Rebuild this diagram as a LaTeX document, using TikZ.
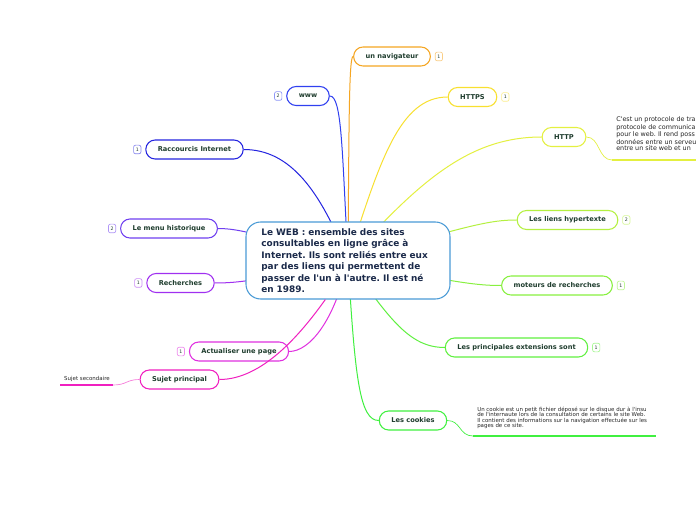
\documentclass[tikz,border=0pt]{standalone}
\usepackage{fontspec}
\setmainfont{DejaVu Sans}
\usetikzlibrary{positioning,backgrounds}

\definecolor{textgreen}{HTML}{1F3D2E}
\definecolor{textnavy}{HTML}{1B2A4A}
\definecolor{rootblue}{HTML}{4A9BD6}
\definecolor{cnav}{HTML}{F5A623}
\definecolor{cwww}{HTML}{3040F0}
\definecolor{chttps}{HTML}{F8E030}
\definecolor{chttp}{HTML}{E4F040}
\definecolor{craccourcis}{HTML}{2424E0}
\definecolor{cmenu}{HTML}{7040F0}
\definecolor{cliens}{HTML}{B4F040}
\definecolor{crech}{HTML}{A030F0}
\definecolor{cmoteurs}{HTML}{88F040}
\definecolor{cactu}{HTML}{E030E0}
\definecolor{cext}{HTML}{60F040}
\definecolor{csujet}{HTML}{F020C0}
\definecolor{ccookies}{HTML}{40F040}

\frenchspacing
\begin{document}
\begin{tikzpicture}[
    x=0.75pt, y=-0.75pt,
    root/.style={rectangle, rounded corners=11pt, draw=rootblue, line width=0.8pt, fill=white, align=left, text width=130pt, minimum width=153pt, minimum height=57.75pt, inner xsep=11.25pt, font=\fontsize{6.7}{8.6}\selectfont\bfseries, text=textnavy},
    topic/.style={rectangle, rounded corners=7pt, draw=#1, line width=0.8pt, fill=white, minimum height=14.25pt, inner xsep=9pt, font=\fontsize{5}{6}\selectfont\bfseries, text=textgreen},
    badge/.style={rectangle, rounded corners=1.5pt, draw=#1!55, line width=0.5pt, fill=white, minimum width=5.5pt, minimum height=6.5pt, inner sep=0pt, font=\fontsize{3.5}{4}\selectfont, text=textgreen},
    note/.style={anchor=north west, inner sep=0pt, align=left, text=black!85},
    link/.style={draw=#1, line width=0.75pt}
  ]
    \useasboundingbox (0,0) rectangle (696,520);

    % centre
    \node[root] (web) at (348,260.5) {Le WEB : ensemble des sites\\consultables en ligne grâce à\\Internet. Ils sont reliés entre eux\\par des liens qui permettent de\\passer de l\textquotesingle un à l\textquotesingle autre. Il est né\\en 1989.};

    % branches
    \node[topic=cnav] (nav) at (392,56.5) {un navigateur};
    \node[badge=cnav, right=3pt of nav] (navb) {1};
    \node[topic=cwww] (www) at (308,96) {www};
    \node[badge=cwww, left=3pt of www] (wwwb) {2};
    \node[topic=chttps] (https) at (472.5,97) {HTTPS};
    \node[badge=chttps, right=3pt of https] (httpsb) {1};
    \node[topic=chttp] (http) at (564,137) {HTTP};
    \node[topic=craccourcis] (racc) at (194.5,149.5) {Raccourcis Internet};
    \node[badge=craccourcis, left=3pt of racc] (raccb) {1};
    \node[topic=cmenu] (menu) at (169,228.5) {Le menu historique};
    \node[badge=cmenu, left=3pt of menu] (menub) {2};
    \node[topic=cliens] (liens) at (567.5,220) {Les liens hypertexte};
    \node[badge=cliens, right=3pt of liens] (liensb) {2};
    \node[topic=crech] (rech) at (180.5,283) {Recherches};
    \node[badge=crech, left=3pt of rech] (rechb) {1};
    \node[topic=cmoteurs] (mot) at (557,285.5) {moteurs de recherches};
    \node[badge=cmoteurs, right=3pt of mot] (motb) {1};
    \node[topic=cactu] (actu) at (239,351.5) {Actualiser une page};
    \node[badge=cactu, left=3pt of actu] (actub) {1};
    \node[topic=cext] (ext) at (516.5,347.5) {Les principales extensions sont};
    \node[badge=cext, right=3pt of ext] (extb) {1};
    \node[topic=csujet] (sujet) at (179.5,379.5) {Sujet principal};
    \node[topic=ccookies] (cook) at (413,420.5) {Les cookies};

    % notes
    \node[note, font=\fontsize{4.8}{4.5}\selectfont] (httpnote) at (616,116.5) {C\textquotesingle est un protocole de tra\\protocole de communica\\pour le web. Il rend poss\\données entre un serveu\\entre un site web et un};
    \coordinate (httpl) at (612,160);
    \coordinate (httpr) at (697,160);
    \node[note, font=\fontsize{4.1}{4.1}\selectfont] (cooknote) at (477,406.5) {Un cookie est un petit fichier déposé sur le disque dur à l\textquotesingle insu\\de l\textquotesingle internaute lors de la consultation de certains le site Web.\\Il contient des informations sur la navigation effectuée sur les\\pages de ce site.};
    \coordinate (cookl) at (473,436);
    \coordinate (cookr) at (656,436);
    \node[inner sep=0pt, font=\fontsize{4.1}{4.5}\selectfont, text=black!85] (sec) at (87,379) {Sujet secondaire};
    \coordinate (secr) at (113,385);
    \coordinate (secl) at (60,385);

    \begin{pgfonlayer}{background}
      \fill[white] (0,0) rectangle (696,520);
      \draw[link=cnav] (web.center) .. controls (349,120) and (349,56.5) .. (nav.west);
      \draw[link=cwww] (web.center) .. controls (342,150) and (342,96) .. (www.east);
      \draw[link=chttps] (web.center) .. controls (380,160) and (400,97) .. (https.west);
      \draw[link=chttp] (web.center) .. controls (420,180) and (470,137) .. (http.west);
      \draw[link=craccourcis] (web.center) .. controls (320,190) and (290,149.5) .. (racc.east);
      \draw[link=cmenu] (web.center) .. controls (260,235) and (240,228.5) .. (menu.east);
      \draw[link=cliens] (web.center) .. controls (470,225) and (490,220) .. (liens.west);
      \draw[link=crech] (web.center) .. controls (260,280) and (240,283) .. (rech.east);
      \draw[link=cmoteurs] (web.center) .. controls (460,284) and (480,285.5) .. (mot.west);
      \draw[link=cactu] (web.center) .. controls (335,320) and (310,351.5) .. (actu.east);
      \draw[link=cext] (web.center) .. controls (390,320) and (410,347.5) .. (ext.west);
      \draw[link=ccookies] (web.center) .. controls (355,380) and (360,420.5) .. (cook.west);
    \end{pgfonlayer}
    \coordinate (sujs) at ([xshift=-17pt]web.south);
    \draw[link=csujet] (sujs) .. controls (300,335) and (262,379.5) .. (sujet.east);

    % notes links
    \draw[draw=chttp, line width=0.5pt] (http.east) .. controls (600,137) and (598,160) .. (httpl);
    \draw[draw=chttp, line width=1.5pt] (httpl) -- (httpr);
    \draw[draw=ccookies, line width=0.5pt] (cook.east) .. controls (461,420.5) and (459,436) .. (cookl);
    \draw[draw=ccookies, line width=1.2pt] (cookl) -- (cookr);
    \draw[draw=csujet!60, line width=0.5pt] (sujet.west) .. controls (126,379.5) and (127,385) .. (secr);
    \draw[draw=csujet, line width=1.2pt] (secr) -- (secl);
  \end{tikzpicture}
\end{document}
